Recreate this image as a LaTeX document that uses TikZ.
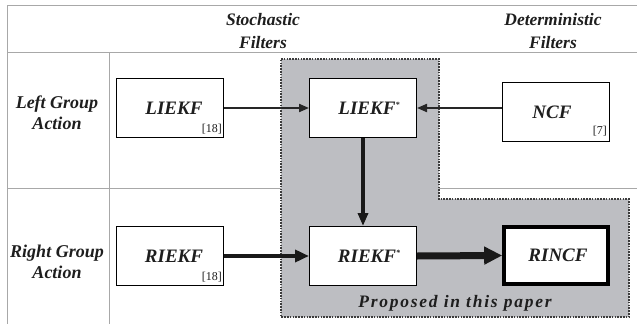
\documentclass[tikz,border=0pt]{standalone}
\usepackage{fontspec}
\setmainfont{Liberation Serif}
\usetikzlibrary{arrows.meta}
\definecolor{gridgray}{HTML}{A8A8A8}
\definecolor{regionfill}{HTML}{BDBEC2}
\definecolor{regiondraw}{HTML}{3C3C3C}
\definecolor{inkc}{HTML}{1E1E1E}
\tikzset{
  gridline/.style={draw=gridgray, line width=1pt},
  lbl/.style={font=\fontsize{17.5}{23}\selectfont\bfseries\itshape, align=center, inner sep=0pt, text=inkc},
  rowlbl/.style={font=\fontsize{18}{21}\selectfont\bfseries\itshape, align=center, inner sep=0pt, text=inkc},
  filterbox/.style={draw=black, fill=white, line width=1pt, minimum width=107pt, minimum height=59pt, inner sep=0pt,
    text=inkc, font=\fontsize{19}{22}\selectfont\bfseries\itshape},
  citelbl/.style={font=\fontsize{12}{13}\selectfont, inner sep=0pt, anchor=south east, text=inkc},
  region/.style={fill=regionfill, draw=regiondraw, line width=2.2pt, dash pattern=on 1.6pt off 1.2pt},
  thinarrow/.style={draw=black!85, line width=2pt, -{Triangle[length=10pt,width=8pt]}},
  midarrow/.style={draw=black!90, line width=3.5pt, -{Triangle[length=13pt,width=10pt]}},
  thickarrow/.style={draw=black!90, line width=4.5pt, -{Triangle[length=14pt,width=12pt]}},
  heavyarrow/.style={draw=black!90, line width=7pt, -{Triangle[length=18pt,width=17pt]}},
}
\newcommand{\astsup}{\raisebox{7pt}{\fontsize{8}{8}\selectfont *}}
\begin{document}
\begin{tikzpicture}[x=1pt,y=-1pt]
\useasboundingbox (0,0) rectangle (637,324);
% table grid
\coordinate (tl) at (7,5);
\coordinate (tr) at (637,5);
\coordinate (hl) at (7,52);
\coordinate (hr) at (637,52);
\coordinate (ml) at (7,188);
\coordinate (mr) at (637,188);
\coordinate (bl) at (7,324);
\coordinate (vt) at (109,52);
\coordinate (vb) at (109,324);
\draw[gridline] (tl) -- (tr);
\draw[gridline] (hl) -- (hr);
\draw[gridline] (ml) -- (mr);
\draw[gridline] (tl) -- (bl);
\draw[gridline] (vt) -- (vb);
% proposed region
\draw[region] (281,59) -- (439,59) -- (439,199) -- (629,199) -- (629,317) -- (281,317) -- cycle;
% headers
\node[lbl] (hstoch) at (263,31) {Stochastic\\Filters};
\node[lbl] (hdet) at (553,31) {Deterministic\\Filters};
\node[rowlbl] (rleft) at (57,113) {Left Group\\Action};
\node[rowlbl] (rright) at (57,262) {Right Group\\Action};
% boxes
\node[filterbox] (liekf) at (170,108) {\hspace*{8pt}LIEKF};
\node[filterbox] (liekfs) at (363,108) {\hspace*{12pt}LIEKF\astsup};
\node[filterbox] (ncf) at (556,112) {\hspace*{-8pt}NCF};
\node[filterbox] (riekf) at (170,256) {\hspace*{8pt}RIEKF};
\node[filterbox] (riekfs) at (363,256) {\hspace*{12pt}RIEKF\astsup};
\node[filterbox, line width=3.6pt, minimum width=104pt, minimum height=57pt] (rincf) at (556,255.5) {\hspace*{4pt}RINCF};
\node[citelbl] (c1) at ([xshift=-2pt,yshift=4pt]liekf.south east) {[18]};
\node[citelbl] (c2) at ([xshift=-2pt,yshift=4pt]riekf.south east) {[18]};
\node[citelbl] (c3) at ([xshift=-3pt,yshift=6pt]ncf.south east) {[7]};
\node[lbl, font=\fontsize{17.5}{20}\selectfont\bfseries\itshape\addfontfeature{LetterSpace=10}] (prop) at (455,303) {Proposed in this paper};
% arrows
\draw[thinarrow] (liekf.east) -- (liekfs.west);
\draw[thinarrow] (ncf.west |- liekfs.east) -- (liekfs.east);
\draw[midarrow] (liekfs.south) -- (riekfs.north);
\draw[thickarrow] (riekf.east) -- (riekfs.west);
\draw[heavyarrow] (riekfs.east) -- (rincf.west);
\end{tikzpicture}
\end{document}
